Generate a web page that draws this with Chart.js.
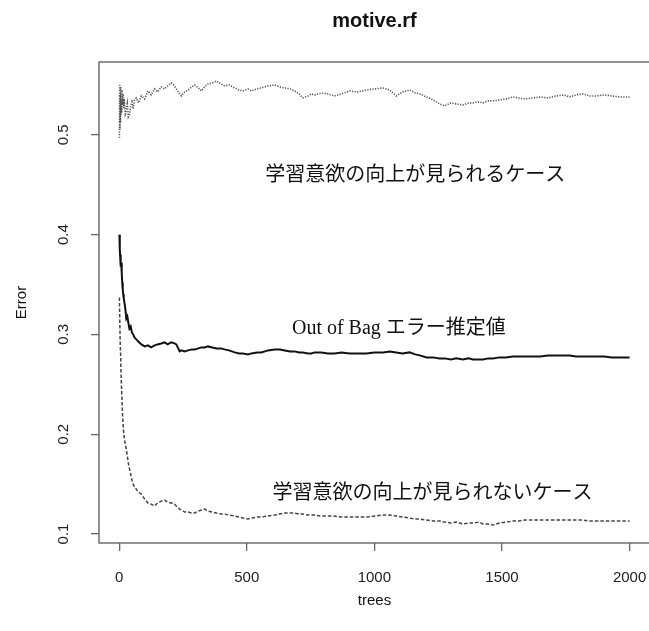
<!DOCTYPE html>
<html>
<head>
<meta charset="utf-8">
<script src="https://cdn.jsdelivr.net/npm/chart.js@4"></script>
<style>
  html, body { margin: 0; padding: 0; background: #fff; overflow: hidden; }
  #wrap { width: 649px; height: 631px; overflow: hidden; }
</style>
</head>
<body>
<div id="wrap"><canvas id="rfChart" width="665" height="631"></canvas></div>
<script>
// number of trees at each sampled point
const trees = [
  1, 2, 3, 4, 5, 6, 7, 8, 10, 12,
  14, 16, 18, 20, 24, 28, 32, 36, 40, 45,
  50, 55, 60, 67, 75, 87, 100, 113, 125, 139,
  150, 165, 178, 190, 204, 217, 224, 237, 244, 257,
  270, 285, 296, 310, 322, 335, 348, 365, 381, 400,
  413, 430, 453, 470, 485, 505, 518, 540, 557, 583,
  609, 630, 649, 670, 688, 705, 720, 740, 753, 766,
  792, 818, 844, 871, 903, 935, 969, 1000, 1034, 1060,
  1086, 1110, 1138, 1160, 1178, 1204, 1230, 1255, 1275, 1300,
  1321, 1347, 1370, 1386, 1410, 1426, 1446, 1465, 1490, 1515,
  1543, 1565, 1590, 1621, 1650, 1680, 1713, 1740, 1765, 1790,
  1817, 1845, 1870, 1900, 1930, 1960, 1985, 2000
];

// class error: improvement seen (dotted)
const errUp = [
  0.497, 0.551, 0.505, 0.540, 0.512, 0.548, 0.520, 0.535, 0.522, 0.545,
  0.530, 0.541, 0.527, 0.536, 0.521, 0.524, 0.531, 0.518, 0.520, 0.528,
  0.533, 0.526, 0.535, 0.537, 0.532, 0.539, 0.536, 0.544, 0.540, 0.546,
  0.543, 0.548, 0.546, 0.549, 0.552, 0.549, 0.546, 0.541, 0.539, 0.543,
  0.545, 0.548, 0.550, 0.547, 0.544, 0.548, 0.551, 0.552, 0.554, 0.551,
  0.549, 0.550, 0.547, 0.545, 0.544, 0.546, 0.544, 0.546, 0.547, 0.549,
  0.550, 0.548, 0.547, 0.546, 0.544, 0.541, 0.537, 0.539, 0.541, 0.540,
  0.542, 0.541, 0.539, 0.541, 0.544, 0.543, 0.545, 0.546, 0.547, 0.545,
  0.539, 0.543, 0.545, 0.542, 0.541, 0.538, 0.535, 0.531, 0.529, 0.532,
  0.531, 0.530, 0.532, 0.532, 0.533, 0.532, 0.534, 0.534, 0.535, 0.536,
  0.538, 0.537, 0.536, 0.537, 0.538, 0.537, 0.539, 0.540, 0.538, 0.540,
  0.541, 0.539, 0.539, 0.540, 0.539, 0.538, 0.538, 0.538
];

// out of bag error (solid)
const errOob = [
  0.400, 0.392, 0.385, 0.378, 0.380, 0.372, 0.368, 0.372, 0.362, 0.352,
  0.345, 0.340, 0.336, 0.333, 0.326, 0.316, 0.318, 0.312, 0.306, 0.308,
  0.302, 0.300, 0.297, 0.295, 0.293, 0.290, 0.288, 0.289, 0.287, 0.289,
  0.290, 0.291, 0.292, 0.290, 0.292, 0.291, 0.290, 0.283, 0.284, 0.283,
  0.284, 0.285, 0.285, 0.286, 0.287, 0.287, 0.288, 0.287, 0.286, 0.286,
  0.285, 0.284, 0.282, 0.281, 0.281, 0.280, 0.281, 0.282, 0.282, 0.284,
  0.285, 0.285, 0.284, 0.283, 0.283, 0.282, 0.282, 0.281, 0.281, 0.282,
  0.282, 0.281, 0.281, 0.282, 0.281, 0.281, 0.281, 0.282, 0.282, 0.283,
  0.282, 0.281, 0.282, 0.280, 0.279, 0.277, 0.277, 0.276, 0.276, 0.275,
  0.276, 0.275, 0.276, 0.275, 0.275, 0.275, 0.276, 0.276, 0.277, 0.277,
  0.278, 0.278, 0.278, 0.278, 0.278, 0.279, 0.279, 0.279, 0.279, 0.278,
  0.278, 0.278, 0.278, 0.278, 0.277, 0.277, 0.277, 0.277
];

// class error: no improvement seen (dashed)
const errNone = [
  0.337, 0.320, 0.305, 0.292, 0.285, 0.278, 0.265, 0.256, 0.242, 0.228,
  0.216, 0.208, 0.200, 0.196, 0.190, 0.185, 0.178, 0.171, 0.166, 0.160,
  0.154, 0.150, 0.147, 0.145, 0.142, 0.140, 0.135, 0.131, 0.130, 0.128,
  0.131, 0.133, 0.134, 0.132, 0.131, 0.130, 0.128, 0.125, 0.124, 0.122,
  0.122, 0.121, 0.121, 0.123, 0.124, 0.125, 0.123, 0.122, 0.121, 0.120,
  0.120, 0.119, 0.118, 0.117, 0.116, 0.115, 0.116, 0.117, 0.117, 0.118,
  0.119, 0.120, 0.121, 0.121, 0.121, 0.120, 0.120, 0.119, 0.119, 0.119,
  0.118, 0.118, 0.118, 0.117, 0.117, 0.117, 0.117, 0.118, 0.119, 0.119,
  0.118, 0.117, 0.116, 0.115, 0.115, 0.114, 0.113, 0.113, 0.112, 0.111,
  0.112, 0.110, 0.111, 0.111, 0.112, 0.110, 0.110, 0.109, 0.111, 0.112,
  0.113, 0.113, 0.114, 0.114, 0.114, 0.114, 0.114, 0.114, 0.114, 0.114,
  0.114, 0.113, 0.113, 0.113, 0.113, 0.113, 0.113, 0.113
];

const xTicks = [0, 500, 1000, 1500, 2000];
const yTicks = [0.1, 0.2, 0.3, 0.4, 0.5];

// text labels placed in data units
const notes = [
  { text: "学習意欲の向上が見られるケース", x: 1160, y: 0.459 },
  { text: "Out of Bag エラー推定値", x: 1096, y: 0.306 },
  { text: "学習意欲の向上が見られないケース", x: 1228, y: 0.140 }
];

function toPoints(values) {
  return trees.map((t, i) => ({ x: t, y: values[i] }));
}

const SANS = "'Liberation Sans', Arial, sans-serif";

const decor = {
  id: "decor",
  afterDraw(chart) {
    const { ctx, chartArea: a, scales } = chart;
    ctx.save();
    // plot box
    ctx.strokeStyle = "#666";
    ctx.lineWidth = 1.4;
    ctx.strokeRect(a.left, a.top, a.right - a.left, a.bottom - a.top);

    ctx.fillStyle = "#111";
    ctx.textAlign = "center";
    ctx.textBaseline = "middle";
    const cx = (a.left + a.right) / 2;

    ctx.font = "bold 20px " + SANS;
    ctx.fillText("motive.rf", cx, 21);

    ctx.font = "15px " + SANS;
    ctx.fillText("trees", cx, 601);

    ctx.save();
    ctx.translate(22, (a.top + a.bottom) / 2);
    ctx.rotate(-Math.PI / 2);
    ctx.fillText("Error", 0, 0);
    ctx.restore();

    ctx.font = "20px 'Liberation Serif', 'Noto Sans CJK JP', serif";
    notes.forEach((n) => {
      ctx.fillText(n.text, scales.x.getPixelForValue(n.x), scales.y.getPixelForValue(n.y));
    });
    ctx.restore();
  }
};

const ctx = document.getElementById("rfChart").getContext("2d");

new Chart(ctx, {
  type: "line",
  data: {
    datasets: [
      {
        label: "OOB",
        data: toPoints(errOob),
        borderColor: "#111",
        borderWidth: 2,
        pointRadius: 0,
        tension: 0
      },
      {
        label: "improved",
        data: toPoints(errUp),
        borderColor: "#555",
        borderWidth: 1.6,
        borderDash: [1.2, 1.4],
        pointRadius: 0,
        tension: 0
      },
      {
        label: "not improved",
        data: toPoints(errNone),
        borderColor: "#444",
        borderWidth: 1.5,
        borderDash: [3.5, 2],
        pointRadius: 0,
        tension: 0
      }
    ]
  },
  options: {
    responsive: false,
    animation: false,
    layout: { padding: { top: 62, right: 15, left: 0, bottom: 0 } },
    plugins: {
      legend: { display: false },
      tooltip: { enabled: false },
      title: { display: false }
    },
    scales: {
      x: {
        type: "linear",
        min: -79,
        max: 2080,
        afterBuildTicks: (s) => { s.ticks = xTicks.map((v) => ({ value: v })); },
        afterFit: (s) => { s.height = 88; },
        border: { display: false },
        grid: { drawOnChartArea: false, tickLength: 8, color: "#666", lineWidth: 1.3 },
        ticks: {
          color: "#222",
          font: { size: 15, family: SANS },
          padding: 18,
          maxRotation: 0,
          callback: (v) => String(v)
        }
      },
      y: {
        type: "linear",
        min: 0.091,
        max: 0.573,
        afterBuildTicks: (s) => { s.ticks = yTicks.map((v) => ({ value: v })); },
        afterFit: (s) => { s.width = 99; },
        border: { display: false },
        grid: { drawOnChartArea: false, tickLength: 8, color: "#666", lineWidth: 1.3 },
        ticks: {
          color: "#222",
          font: { size: 15, family: SANS },
          padding: 17,
          minRotation: 90,
          maxRotation: 90,
          crossAlign: "center",
          callback: (v) => v.toFixed(1)
        }
      }
    }
  },
  plugins: [decor]
});
</script>
</body>
</html>
